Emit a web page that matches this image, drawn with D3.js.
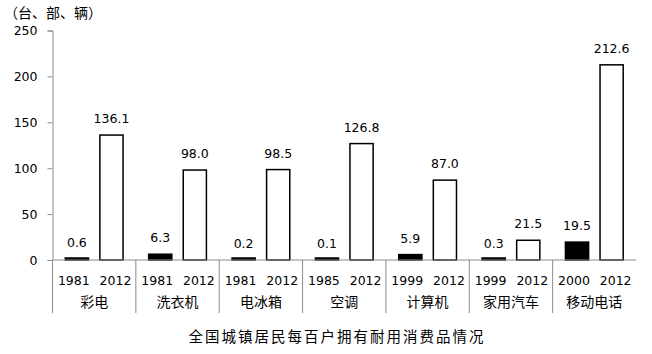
<!DOCTYPE html>
<meta charset="utf-8">
<script src="https://d3js.org/d3.v7.min.js"></script>
<body style="margin:0;background:#fff">
    <div id="viz"></div>
</body>
<style>
    text { fill: #000; }
</style>
<script>
    // data
    let categories = ["彩电", "洗衣机", "电冰箱", "空调", "计算机", "家用汽车", "移动电话"];
    let startYears = ["1981", "1981", "1981", "1985", "1999", "1999", "2000"];
    let endYears = ["2012", "2012", "2012", "2012", "2012", "2012", "2012"];
    let startValues = [0.6, 6.3, 0.2, 0.1, 5.9, 0.3, 19.5];
    let endValues = [136.1, 98.0, 98.5, 126.8, 87.0, 21.5, 212.6];
    let yTicks = [0, 50, 100, 150, 200, 250];

    let width = 652, height = 354;
    let numFont = "'DejaVu Sans', sans-serif";
    let cjkFont = "'Noto Sans CJK SC', sans-serif";
    let axisColor = "#8c8c8c";

    let svg = d3.select("#viz").append("svg")
        .attr("width", width)
        .attr("height", height);

    let x = d3.scaleBand()
        .domain(categories)
        .range([52.5, 636]);
    // bar slots inside a group
    let inner = d3.scaleBand()
        .domain([0, 1])
        .range([0, x.bandwidth()])
        .paddingInner(0.33)
        .paddingOuter(0.37);
    // label slots inside a group
    let labelPos = d3.scaleBand()
        .domain([0, 1])
        .range([0, x.bandwidth()]);

    let y = d3.scaleLinear()
        .domain([0, 250])
        .range([260, 30.5]);

    // y axis
    let yAxis = svg.append("g")
        .attr("transform", `translate(${x.range()[0]},0)`)
        .call(d3.axisLeft(y).tickValues(yTicks).tickSize(5).tickPadding(10));
    yAxis.selectAll(".tick line").attr("stroke", axisColor);
    yAxis.select(".domain").attr("stroke", axisColor);
    yAxis.selectAll(".tick text")
        .style("font-family", numFont)
        .style("font-size", "12.5px");

    let rows = categories.map((c, i) => ({
        cat: c,
        bars: [
            {slot: 0, year: startYears[i], value: startValues[i], fill: "#000"},
            {slot: 1, year: endYears[i], value: endValues[i], fill: "#fff"}
        ]
    }));

    let groups = svg.selectAll(".grp")
        .data(rows)
        .enter().append("g")
        .attr("class", "grp")
        .attr("transform", d => `translate(${x(d.cat)},0)`);

    let bars = groups.selectAll(".bar")
        .data(d => d.bars)
        .enter();

    bars.append("rect")
        .attr("x", d => inner(d.slot))
        .attr("y", d => Math.min(y(d.value), y(0) - 2))
        .attr("width", inner.bandwidth())
        .attr("height", d => Math.max(y(0) - y(d.value), 2))
        .attr("fill", d => d.fill)
        .attr("stroke", "#000")
        .attr("stroke-width", 1.5);

    bars.append("text")
        .attr("x", d => inner(d.slot) + inner.bandwidth() / 2)
        .attr("y", d => y(d.value) - 12)
        .attr("text-anchor", "middle")
        .style("font-family", numFont)
        .style("font-size", "12.5px")
        .text(d => d.value.toFixed(1));

    bars.append("text")
        .attr("x", d => labelPos(d.slot) + labelPos.bandwidth() / 2 + 0.5)
        .attr("y", 285)
        .attr("text-anchor", "middle")
        .style("font-family", numFont)
        .style("font-size", "12.5px")
        .text(d => d.year);

    groups.append("text")
        .attr("x", x.bandwidth() / 2)
        .attr("y", 307)
        .attr("text-anchor", "middle")
        .style("font-family", cjkFont)
        .style("font-size", "14px")
        .text(d => d.cat);

    // x baseline and group separators
    svg.append("line")
        .attr("x1", x.range()[0]).attr("x2", x.range()[1])
        .attr("y1", y(0)).attr("y2", y(0))
        .attr("stroke", axisColor);
    svg.selectAll(".sep")
        .data(categories)
        .enter().append("line")
        .attr("x1", d => x(d)).attr("x2", d => x(d))
        .attr("y1", y(0)).attr("y2", 313)
        .attr("stroke", axisColor);

    // unit and title
    svg.append("text")
        .attr("x", 4).attr("y", 18)
        .style("font-family", cjkFont)
        .style("font-size", "14px")
        .text("（台、部、辆）");

    svg.append("text")
        .attr("x", 337).attr("y", 342)
        .attr("text-anchor", "middle")
        .style("font-family", cjkFont)
        .style("font-size", "14.5px")
        .style("letter-spacing", "2px")
        .text("全国城镇居民每百户拥有耐用消费品情况");
</script>
